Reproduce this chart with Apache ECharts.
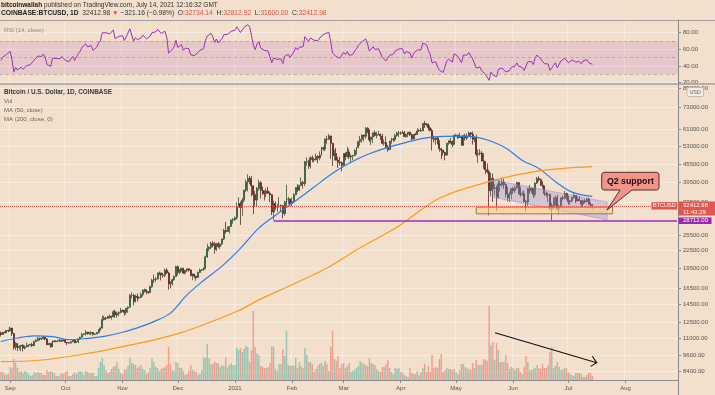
<!DOCTYPE html>
<html><head><meta charset="utf-8">
<script src="https://cdn.jsdelivr.net/npm/echarts@6/dist/echarts.min.js"></script>
<style>html,body{margin:0;padding:0;background:#f2dfcc;}#c{width:715px;height:395px;}</style>
</head><body><div id="c"></div>
<script>
// ---------------- DATA ----------------
const startDate = '2020-08-27';
const visibleDays = 368;
const firstOpen = 11470;
const closes = [
11330,11540,11480,11710,11660,
11930,11400,10180,10510,10170,10280,10370,10130,10240,10360,10400,10440,10330,10680,10790,10960,10940,10930,11080,10920,10420,10530,10240,10740,10690,10730,10770,10700,10840,10780,
10620,10570,10550,10670,10790,10600,10670,10920,11060,11300,11380,11540,11430,11430,11500,11330,11370,11510,11750,11920,12800,12970,12930,13120,13030,13070,13640,13280,13460,13560,13800,
13760,13550,14020,14150,15590,15590,14840,15480,15330,15300,15700,16280,16320,16070,15960,16730,17660,17790,17820,18690,18700,18420,18370,19160,18730,17150,17140,17720,18180,19700,
18790,19220,19450,18700,19150,19360,19170,18330,18550,18250,18030,18800,19170,19270,19440,21350,22800,23110,23850,23480,22720,23820,23250,23730,24710,26490,26280,27080,27380,28880,28990,
29400,32200,33000,31990,33950,36830,39430,40580,40150,38190,35530,33990,37370,39160,36770,36010,35820,36630,35900,35470,30830,33000,32090,32270,32270,32500,30420,33420,34260,34300,33110,
33520,35510,37660,36930,38290,39260,38880,46440,46500,44850,47990,47380,47150,48590,47930,49150,52120,51590,55910,55890,57410,54090,48890,49710,47060,46280,46110,45150,
49630,48400,50370,48380,48760,48880,50970,52370,54880,55850,57800,57230,61190,59000,55650,56930,58930,57650,58030,58100,57350,54100,54350,52300,51310,55070,55870,55780,57620,58780,58800,
58740,58970,57090,58210,59130,57990,56000,58090,58080,59780,59980,59860,63580,62960,63160,61340,60000,56150,55660,56470,53800,51700,51150,50110,49100,54050,55040,54880,53570,57720,
57820,56610,57200,53250,57460,56400,57360,58860,58240,55840,56700,49430,49690,49890,46760,46450,43550,42850,36690,40600,37300,37510,34770,38800,38400,39300,38550,35680,34630,35650,37300,
36680,37580,39190,36850,35520,35800,33580,33400,37390,36690,37340,35550,39020,40520,40160,38340,38090,35830,35480,35600,31610,32510,33680,34660,31590,32260,34650,34470,35870,35040,
33540,33800,34680,35290,33700,34220,33860,32880,33820,33510,34260,33090,32734.14,32412.98];
const highs = [
11590,11550,11590,11720,11770,
12080,11950,11440,10650,10580,10350,10400,10440,10350,10590,10410,10480,10580,10750,10930,11100,11040,11040,11180,11080,10990,10570,10540,10780,10760,10800,10800,10950,10860,10850,
10920,10640,10600,10690,10800,10800,10690,10950,11110,11480,11440,11730,11560,11550,11630,11540,11420,11520,11820,12020,13220,13190,13030,13160,13340,13240,13790,13860,13640,13680,14080,
13900,13830,14070,14240,15760,15970,15770,15670,15840,15470,15960,16350,16480,16330,16160,16880,17850,18480,18140,18800,18960,18760,18770,19420,19490,18900,17460,17870,18340,19860,
19920,19340,19550,19520,19170,19420,19410,19290,18640,18560,18270,18950,19400,19350,19570,21560,23770,23280,24170,24300,24100,23840,24110,23800,24790,26870,28420,27410,27400,28990,29300,
29680,33300,34780,33600,34500,36950,40180,41990,41380,41400,38300,36600,37850,40100,39700,37950,36850,37400,37850,36400,35600,33840,33600,32950,34880,32800,32550,33780,38500,34900,34300,
34700,35960,37700,38700,38330,40950,39750,46800,48200,47300,48700,48900,48150,49700,49000,50600,52600,52550,56300,57500,58350,57550,54200,51350,52050,48400,48350,46600,
49800,50200,52600,51800,49450,49200,51450,52400,54900,57400,58150,58000,61780,61650,60600,56950,58950,60100,59450,59900,58600,58450,55850,57200,53250,55100,56600,56550,58400,59400,59800,
59500,60100,59800,58500,59300,59500,58650,58150,58900,61200,60700,61300,63750,64900,63800,63550,62500,61000,57500,57000,56800,55450,52100,51200,50500,54350,55450,56400,55200,57950,
58450,57950,58950,57200,57950,58350,58650,59500,59250,59550,56900,58000,51400,51500,50700,49800,46650,45850,43550,42450,42200,38800,38250,39900,39800,40850,40400,38900,37900,36450,37500,
37900,38250,39450,39250,37900,36450,36750,34050,37500,38400,37650,37450,39300,41050,41300,40500,39550,38200,36450,36100,35750,33300,34850,35300,35500,32700,34700,35250,36600,36050,
35050,33950,34950,35950,35300,35050,35050,33900,34100,34250,34600,34650,33350,32812.92];
const lows = [
11140,11280,11430,11450,11550,
11580,11180,10000,9960,9880,10000,9880,9850,10020,10210,10200,10370,10220,10290,10630,10720,10760,10830,10890,10800,10360,10360,10150,10200,10600,10650,10630,10670,10650,10700,
10540,10380,10510,10530,10630,10530,10590,10540,10830,11060,11280,11240,11300,11290,11260,11220,11300,11340,11420,11690,11900,12690,12730,12890,12900,12780,13060,12960,12990,13130,13450,
13620,13220,13300,13530,14100,15200,14340,14710,14830,15100,15280,15440,15960,15710,15800,15870,16550,17220,17350,17760,18360,17620,18000,18060,18580,16330,16510,16890,17540,18180,
18330,18520,18930,18590,18500,18880,18910,18210,17650,17920,17580,18000,18720,19000,19050,19290,21230,22350,22750,23060,21900,22370,23000,22720,23440,24510,25850,26260,25880,27340,28000,
28630,28950,32000,27730,29900,33300,36300,36500,38720,35000,30260,32400,32380,36700,34400,35400,33850,34830,35850,33400,30070,28850,31400,30900,31950,30830,29240,29880,31950,32850,32300,
32300,33400,35380,36200,36600,38250,37350,38100,45000,43800,44000,46300,46250,47050,45900,47050,48950,50900,50700,53900,55500,47600,44900,47050,47000,44150,45050,43000,
45000,47050,48100,47500,46300,47100,48880,49300,51850,53050,54300,55000,56100,58950,54600,53300,54150,57100,56300,57850,55500,53700,53000,51700,50400,51300,53950,54700,54900,57000,56900,
57950,58450,56950,56500,56800,57300,55500,55750,57700,57900,59350,59400,59800,61300,62050,60000,59600,51000,54300,53400,53650,50500,47500,48800,47050,48800,53350,53900,52400,53150,
57050,56050,56500,53050,52950,55250,55500,56950,56250,53500,54450,48600,46000,48900,46600,43850,42100,42250,30000,35000,33500,35300,31100,34400,36450,37800,37200,34700,33650,33400,34200,
35700,35950,37200,35600,34850,35250,33350,31000,32400,35800,35950,34600,34800,38750,39500,38150,37400,35150,34850,33350,31250,28800,31700,32300,31300,30200,32000,33900,34250,34050,
32750,32700,33350,34300,33150,33550,33800,32100,32300,33050,33350,32700,32250,31600];
// volume, thousand BTC
const volumes = [
8,8,6,5,6,
13,12,21,17,12,8,9,7,9,8,6,4,5,8,7,8,7,7,5,5,10,8,9,8,7,4,4,5,7,6,
8,9,4,4,6,8,6,8,9,8,5,9,8,7,7,7,4,4,12,18,22,15,10,7,8,11,13,14,18,11,7,
6,10,11,14,22,17,16,15,12,13,15,11,10,6,8,12,22,18,13,12,9,11,12,13,15,33,16,10,9,18,
17,12,12,9,5,6,9,15,10,9,8,5,6,10,23,22,36,22,16,16,18,17,17,13,15,14,23,13,15,17,15,
15,32,30,32,28,31,34,33,18,30,69,33,27,25,14,13,12,12,13,17,34,33,11,9,16,16,31,24,49,15,14,
15,14,22,12,18,14,12,32,25,18,18,16,8,11,14,16,17,14,19,16,9,33,49,21,19,24,12,16,
17,12,14,17,8,9,10,12,14,19,17,16,15,14,22,17,16,15,11,9,8,13,13,16,20,12,8,6,12,11,12,
8,8,5,4,3,12,7,6,6,9,5,8,12,16,8,14,8,25,12,13,12,21,26,8,10,12,11,11,10,11,
8,6,10,16,16,13,12,11,10,17,12,20,15,15,15,21,20,19,74,35,38,20,37,30,18,18,18,25,17,11,13,
12,10,12,12,8,6,13,24,18,10,10,11,12,15,12,11,16,12,12,15,28,33,12,14,18,13,10,11,12,12,
8,6,5,4,7,7,7,6,3,3,5,7,7,4];
// closes before the visible range (Jul 27 - Aug 26 2020), used only to warm up RSI(14)
const rsiWarmupCloses = [11030,10910,11100,11110,11340,11800,11070,11230,11190,11750,11770,11600,11760,11680,11880,11390,11560,11780,11770,11860,11910,12290,11960,11760,11860,11520,11680,11650,11760,11340,11470];
// moving averages
const ma50 = [['2020-08-27',10690],['2020-09-05',11000],['2020-09-14',11200],['2020-09-24',11130],['2020-10-03',10850],['2020-10-12',10950],['2020-10-22',11150],['2020-10-31',11480],['2020-11-09',11950],['2020-11-18',12580],['2020-11-27',13480],['2020-12-06',15650],['2020-12-15',17600],['2020-12-25',19800],['2021-01-04',22900],['2021-01-14',27000],['2021-01-24',30300],['2021-02-03',33800],['2021-02-13',37800],['2021-02-23',42300],['2021-03-05',46300],['2021-03-15',49600],['2021-03-25',52300],['2021-04-04',54500],['2021-04-14',56400],['2021-04-24',57200],['2021-05-04',57300],['2021-05-11',57000],['2021-05-19',55300],['2021-05-28',52000],['2021-06-06',47000],['2021-06-15',44000],['2021-06-24',39500],['2021-07-03',36250],['2021-07-14',35000]];
const ma200 = [['2020-08-27',9070],['2020-09-17',9170],['2020-10-09',9590],['2020-10-31',10210],['2020-12-02',11450],['2021-01-03',13760],['2021-01-14',15020],['2021-02-01',17000],['2021-02-20',19500],['2021-03-10',23000],['2021-03-31',27500],['2021-04-22',34500],['2021-05-19',39500],['2021-06-15',43150],['2021-07-14',44700]];
const priceTicks = [85000,73000,61000,53000,45500,39500,33500,25500,22500,19500,16500,14500,12500,11000,9600,8400];
const supportLevel = 28712;
const supportLineStart = '2021-01-22';
const boxDates = ['2021-05-12','2021-07-25'];
const boxPrices = [32070,30360];
const channelDates = ['2021-05-21','2021-07-22','2021-07-22','2021-05-21'];
const channelPrices = [40100,33400,28890,34800];
const lastTime = '11:43:29';

// ---------------- BUILD ----------------
const FONT = '"Liberation Sans", Arial, sans-serif';
const dates = [];
const t0 = Date.parse(startDate + 'T00:00:00Z');
for (let i = 0; i < visibleDays; i++) dates.push(new Date(t0 + i * 86400000).toISOString().slice(0, 10));
const n = Math.min(closes.length, highs.length, lows.length, volumes.length);
const opens = closes.map((c, i) => i === 0 ? firstOpen : closes[i - 1]);
const candles = [];
const volData = [];
for (let i = 0; i < n; i++) {
  candles.push([opens[i], closes[i], lows[i], highs[i]]);
  const up = closes[i] >= opens[i];
  volData.push({ value: volumes[i], itemStyle: { color: up ? 'rgba(60,170,150,0.5)' : 'rgba(240,95,85,0.52)' } });
}
function wilderRsi(s, p) {
  const out = new Array(s.length).fill(null);
  let g = 0, l = 0;
  for (let i = 1; i <= p; i++) { const ch = s[i] - s[i - 1]; if (ch > 0) g += ch; else l -= ch; }
  g /= p; l /= p;
  out[p] = l === 0 ? 100 : 100 - 100 / (1 + g / l);
  for (let i = p + 1; i < s.length; i++) {
    const ch = s[i] - s[i - 1];
    g = (g * (p - 1) + Math.max(ch, 0)) / p;
    l = (l * (p - 1) + Math.max(-ch, 0)) / p;
    out[i] = l === 0 ? 100 : 100 - 100 / (1 + g / l);
  }
  return out;
}
const rsi = wilderRsi(rsiWarmupCloses.concat(closes.slice(0, n)), 14).slice(rsiWarmupCloses.length).map(v => v == null ? null : +v.toFixed(2));

const monthNames = ['Jan','Feb','Mar','Apr','May','Jun','Jul','Aug','Sep','Oct','Nov','Dec'];
const isMonthStart = (idx, val) => String(val).slice(8) === '01';
const monthFmt = v => { const m = +v.slice(5, 7); return m === 1 ? v.slice(0, 4) : monthNames[m - 1]; };
const vgrid = { show: true, interval: isMonthStart, lineStyle: { color: 'rgba(255,255,255,0.38)', width: 1 } };

const PLOT_W = 678;
const option = {
  backgroundColor: '#f2dfcc',
  animation: false,
  grid: [
    { left: 0, top: 85, width: PLOT_W, height: 295, outerBoundsMode: 'none' },
    { left: 0, top: 20, width: PLOT_W, height: 62.7, outerBoundsMode: 'none' },
    { left: 0, top: 300, width: PLOT_W, height: 80, outerBoundsMode: 'none' }
  ],
  xAxis: [
    { type: 'category', gridIndex: 0, data: dates, boundaryGap: true,
      axisLine: { show: true, lineStyle: { color: '#8a8a8a' } },
      axisTick: { show: true, interval: isMonthStart, alignWithLabel: true, length: 3, lineStyle: { color: '#8a8a8a' } },
      axisLabel: { show: true, interval: isMonthStart, formatter: monthFmt, fontSize: 6, color: '#555', margin: 5, fontFamily: FONT },
      splitLine: vgrid },
    { type: 'category', gridIndex: 1, data: dates, boundaryGap: true,
      axisLine: { show: false }, axisTick: { show: false }, axisLabel: { show: false }, splitLine: vgrid },
    { type: 'category', gridIndex: 2, data: dates, boundaryGap: true, show: false }
  ],
  yAxis: [
    { type: 'log', logBase: 10, gridIndex: 0, position: 'right', min: 7802, max: 87070,
      axisLine: { show: true, lineStyle: { color: '#8a8a8a' } }, axisTick: { show: false }, axisLabel: { show: false }, splitLine: { show: false } },
    { type: 'value', gridIndex: 1, position: 'right', min: 20, max: 95.2, interval: 20,
      axisLine: { show: true, lineStyle: { color: '#8a8a8a' } },
      axisTick: { show: true, length: 3, lineStyle: { color: '#8a8a8a' } },
      axisLabel: { show: true, showMaxLabel: false, fontSize: 6, color: '#555', margin: 5, fontFamily: FONT, formatter: v => v.toFixed(2) },
      splitLine: { show: true, lineStyle: { color: 'rgba(255,255,255,0.45)' } } },
    { type: 'value', gridIndex: 2, min: 0, max: 80, show: false }
  ],
  series: [
    { type: 'bar', name: 'Vol', xAxisIndex: 2, yAxisIndex: 2, data: volData, barWidth: '78%', z: 1 },
    { type: 'candlestick', name: 'BTCUSD', xAxisIndex: 0, yAxisIndex: 0, data: candles, barWidth: '80%', z: 3,
      itemStyle: { color: '#3f8f58', color0: '#9a2a26', borderColor: '#22442b', borderColor0: '#4a1412', borderWidth: 0.7 },
      markArea: { silent: true, z: 6,
        itemStyle: { color: 'rgba(255,205,135,0.6)', borderColor: '#8a7a6c', borderWidth: 1 },
        data: [[{ xAxis: boxDates[0], yAxis: boxPrices[0] }, { xAxis: boxDates[1], yAxis: boxPrices[1] }]] },
      markLine: { silent: true, symbol: 'none', z: 6, label: { show: false },
        data: [
          [{ coord: [supportLineStart, supportLevel], lineStyle: { color: '#a02cc0', width: 1.6, type: 'solid' } },
           { coord: [dates[dates.length - 1], supportLevel] }],
          { yAxis: closes[n - 1], lineStyle: { color: '#e0574f', width: 1, type: 'dotted' } }
        ] } },
    { type: 'line', name: 'MA50', xAxisIndex: 0, yAxisIndex: 0, data: ma50, smooth: 0.35, showSymbol: false, z: 4,
      lineStyle: { color: '#2a7fe6', width: 1.2 } },
    { type: 'line', name: 'MA200', xAxisIndex: 0, yAxisIndex: 0, data: ma200, smooth: 0.35, showSymbol: false, z: 4,
      lineStyle: { color: '#fb9a1c', width: 1.2 } },
    { type: 'custom', name: 'channel', xAxisIndex: 0, yAxisIndex: 0, data: [[0, 0]], z: 5, silent: true,
      renderItem: (params, api) => {
        const pts = channelDates.map((d, i) => api.coord([dates.indexOf(d), channelPrices[i]]));
        return { type: 'polygon', shape: { points: pts }, style: { fill: 'rgba(150,140,215,0.33)', stroke: 'rgba(125,115,200,0.55)', lineWidth: 0.7 } };
      } },
    { type: 'line', name: 'RSI', xAxisIndex: 1, yAxisIndex: 1, data: rsi, showSymbol: false, z: 4,
      lineStyle: { color: '#9b30b8', width: 1 },
      markArea: { silent: true, z: 1, itemStyle: { color: 'rgba(156,39,176,0.12)' }, data: [[{ yAxis: 70 }, { yAxis: 30 }]] },
      markLine: { silent: true, symbol: 'none', label: { show: false }, lineStyle: { color: 'rgba(130,120,130,0.55)', type: [3, 3], width: 0.8 },
        data: [{ yAxis: 70 }, { yAxis: 50 }, { yAxis: 30 }] } }
  ]
};

const chart = echarts.init(document.getElementById('c'), null, { renderer: 'canvas' });
chart.setOption(option);

// ---------------- AXIS LABELS & ANNOTATIONS ----------------
const py = v => chart.convertToPixel({ yAxisIndex: 0 }, v);
const els = [];
const txt = (x, y, text, size, color, weight, align, z) => ({ type: 'text', x, y, z: z || 90, silent: true,
  style: { text, fill: color, font: (weight || 'normal') + ' ' + size + 'px ' + FONT, textAlign: align || 'left', textVerticalAlign: 'middle' } });
priceTicks.forEach(v => {
  const y = Math.round(py(v)) + 0.5;
  els.push({ type: 'line', z: 0, silent: true, shape: { x1: 0, y1: y, x2: PLOT_W, y2: y }, style: { stroke: 'rgba(255,255,255,0.38)', lineWidth: 1 } });
  els.push({ type: 'line', z: 50, silent: true, shape: { x1: PLOT_W, y1: y, x2: PLOT_W + 3, y2: y }, style: { stroke: '#8a8a8a', lineWidth: 1 } });
  els.push(txt(683, y, v.toFixed(2), 6, '#555', 'normal', 'left', 50));
});
els.push({ type: 'line', z: 60, silent: true, shape: { x1: 0, y1: 20.5, x2: 715, y2: 20.5 }, style: { stroke: '#a5a0a0', lineWidth: 1 } });
els.push({ type: 'line', z: 60, silent: true, shape: { x1: 0, y1: 84, x2: 715, y2: 84 }, style: { stroke: '#a0a0a0', lineWidth: 1.6 } });
els.push({ type: 'line', z: 60, silent: true, shape: { x1: PLOT_W + 0.5, y1: 20, x2: PLOT_W + 0.5, y2: 395 }, style: { stroke: '#8a8a8a', lineWidth: 1 } });
els.push({ type: 'rect', z: 70, silent: true, shape: { x: 687, y: 87.5, width: 16.5, height: 9, r: 1.5 }, style: { fill: '#f6ebe1', stroke: '#b8aea6', lineWidth: 0.8 } });
els.push(txt(695.2, 92.2, 'USD', 5.5, '#666', 'normal', 'center'));
const yc = py(closes[n - 1]);
els.push({ type: 'rect', z: 70, silent: true, shape: { x: 651.5, y: yc - 3.7, width: 25.8, height: 7.4 }, style: { fill: '#e0574f' } });
els.push(txt(664.4, yc, 'BTCUSD', 5.5, '#fff', 'normal', 'center'));
els.push({ type: 'rect', z: 70, silent: true, shape: { x: PLOT_W + 0.5, y: yc - 4.3, width: 37, height: 14 }, style: { fill: '#e0574f' } });
els.push(txt(683, yc, closes[n - 1].toFixed(2), 6, '#fff'));
els.push(txt(683, yc + 6.8, lastTime, 6, '#fff'));
const ys = py(supportLevel);
els.push({ type: 'rect', z: 70, silent: true, shape: { x: PLOT_W + 0.5, y: ys - 3.2, width: 33, height: 6.6 }, style: { fill: '#9c27b0' } });
els.push(txt(683, ys, supportLevel.toFixed(2), 6, '#fff'));
els.push({ type: 'text', x: 1, y: 5, z: 90, silent: true, style: { text: '{b|bitcoinwallah}{n| published on TradingView.com, July 14, 2021 12:16:32 GMT}', textVerticalAlign: 'middle',
  rich: { b: { font: 'bold 6.5px ' + FONT, fill: '#222' }, n: { font: '6.5px ' + FONT, fill: '#333' } } } });
els.push({ type: 'text', x: 1, y: 13.5, z: 90, silent: true, style: { text: '{b|COINBASE:BTCUSD, 1D}{n|  32412.98 }{r|▼}{n| −321.16 (−0.98%)  O:}{r|32734.14}{n|  H:}{r|32812.92}{n|  L:}{r|31600.00}{n|  C:}{r|32412.98}', textVerticalAlign: 'middle',
  rich: { b: { font: 'bold 6.7px ' + FONT, fill: '#222' }, n: { font: '6.7px ' + FONT, fill: '#333' }, r: { font: '6.7px ' + FONT, fill: '#e5504a' } } } });
els.push(txt(4, 30, 'RSI (14, close)', 6, '#8a8a8a'));
els.push(txt(4, 92.5, 'Bitcoin / U.S. Dollar, 1D, COINBASE', 6.4, '#3a3a3a', 'bold'));
els.push(txt(4, 101, 'Vol', 6, '#666'));
els.push(txt(4, 110, 'MA (50, close)', 6, '#666'));
els.push(txt(4, 119, 'MA (200, close, 0)', 6, '#666'));
// callout "Q2 support" (rounded box with pointer, as one polygon)
const L = 601.7, T = 172.3, R = 659, B = 190, c = 1.2;
const callout = [[L + c * 2, T], [R - c * 2, T], [R - c * 0.6, T + c * 0.6], [R, T + c * 2], [R, B - c * 2], [R - c * 0.6, B - c * 0.6], [R - c * 2, B],
  [632, B], [607, 210], [620, B], [L + c * 2, B], [L + c * 0.6, B - c * 0.6], [L, B - c * 2], [L, T + c * 2], [L + c * 0.6, T + c * 0.6]];
els.push({ type: 'polygon', z: 80, silent: true, shape: { points: callout }, style: { fill: '#f4938a', stroke: '#3a2222', lineWidth: 0.9 } });
els.push(txt((L + R) / 2, (T + B) / 2 + 0.3, 'Q2 support', 8.8, '#111', 'bold', 'center'));
els.push({ type: 'polyline', z: 80, silent: true, shape: { points: [[495, 332.7], [596.7, 362.7]] }, style: { stroke: '#111', lineWidth: 1.1, fill: null } });
els.push({ type: 'polyline', z: 80, silent: true, shape: { points: [[592.3, 356.3], [596.7, 362.7], [590.6, 366.4]] }, style: { stroke: '#111', lineWidth: 1.1, fill: null } });
chart.setOption({ graphic: { elements: els } });
</script></body></html>
